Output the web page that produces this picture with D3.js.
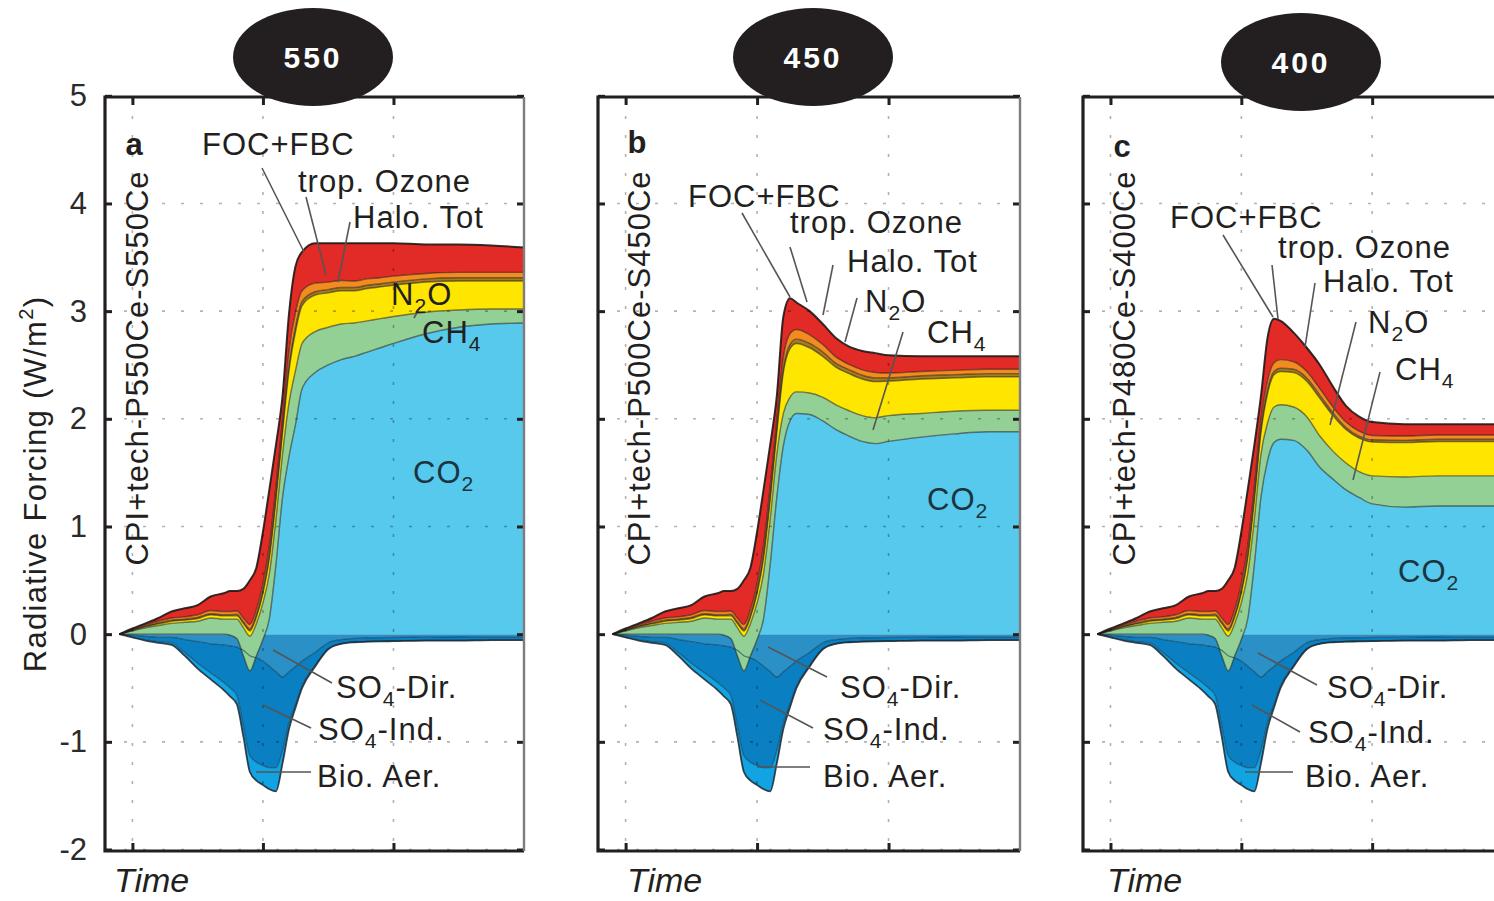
<!DOCTYPE html>
<html>
<head>
<meta charset="utf-8">
<title>Radiative forcing by agent – CPI+tech stabilisation scenarios</title>
<script src="https://cdn.jsdelivr.net/npm/d3@7/dist/d3.min.js"></script>
<style>
  html, body { margin: 0; padding: 0; background: #ffffff; }
  svg { display: block; }
  text { font-family: "Liberation Sans", Arial, Helvetica, sans-serif; }
</style>
</head>
<body>
<svg id="chart" width="1494" height="901"></svg>
<script>
// ---------------- time axis shared by all scenarios ----------------
const years = [1990, 2000, 2010, 2020, 2030, 2040, 2050, 2060, 2070, 2075, 2080, 2085,
  2090, 2095, 2100, 2105, 2110, 2115, 2120, 2125, 2130, 2140, 2150, 2160,
  2170, 2180, 2190, 2200, 2225, 2250, 2275, 2300];

// ---------------- scenario identifiers ----------------
const targets = ["550", "450", "400"];
const scenarioNames = ["CPI+tech-P550Ce-S550Ce", "CPI+tech-P500Ce-S450Ce", "CPI+tech-P480Ce-S400Ce"];
const panelLetters = ["a", "b", "c"];

// ---------------- forcing agents ----------------
const positiveAgents = ["CO2", "CH4", "N2O", "Halo. Tot", "trop. Ozone", "FOC+FBC"];
const negativeAgents = ["SO4-Dir.", "SO4-Ind.", "Bio. Aer."];

// ---------------- tick values ----------------
const forcingTicks = [-2, -1, 0, 1, 2, 3, 4, 5];
const timeTicks = [2000, 2100, 2200];

// ---------------- radiative forcing, W/m2 : 550 target ----------------
const co2_550   = [0,0,0,0,0,0,0,0,0,-0.01,-0.04,-0.2,-0.34,-0.2,-0.05,0.15,0.65,1.27,1.65,1.95,2.28,2.43,2.5,2.55,2.58,2.62,2.66,2.7,2.79,2.85,2.88,2.89];
const ch4_550   = [0,0.03,0.06,0.08,0.1,0.11,0.12,0.15,0.14,0.15,0.18,0.26,0.32,0.3,0.34,0.42,0.42,0.4,0.5,0.5,0.42,0.38,0.35,0.33,0.31,0.29,0.27,0.25,0.2,0.16,0.14,0.13];
const n2o_550   = [0,0.005,0.01,0.015,0.02,0.02,0.025,0.03,0.03,0.03,0.03,0.04,0.05,0.06,0.09,0.14,0.18,0.2,0.3,0.36,0.35,0.34,0.32,0.31,0.3,0.3,0.295,0.29,0.28,0.27,0.26,0.26];
const halo_550  = [0,0.003,0.005,0.01,0.01,0.01,0.01,0.01,0.01,0.01,0.015,0.015,0.02,0.02,0.03,0.04,0.04,0.04,0.05,0.05,0.04,0.03,0.03,0.03,0.03,0.03,0.03,0.03,0.03,0.03,0.03,0.03];
const ozone_550 = [0,0.005,0.01,0.015,0.02,0.02,0.025,0.03,0.03,0.03,0.03,0.035,0.04,0.05,0.06,0.08,0.09,0.08,0.13,0.13,0.1,0.08,0.07,0.065,0.06,0.06,0.055,0.055,0.05,0.05,0.05,0.05];
const foc_550   = [0,0.01,0.015,0.03,0.06,0.08,0.09,0.13,0.17,0.19,0.185,0.27,0.41,0.39,0.48,0.52,0.38,0.22,0.35,0.43,0.36,0.37,0.36,0.345,0.35,0.33,0.32,0.305,0.27,0.26,0.25,0.23];

// ---------------- radiative forcing, W/m2 : 450 target ----------------
const co2_450   = [0,0,0,0,0,0,0,0,0,-0.01,-0.04,-0.2,-0.34,-0.2,-0.05,0.15,0.65,1.27,1.75,1.98,2.05,2.04,1.98,1.9,1.84,1.79,1.77,1.79,1.83,1.86,1.88,1.88];
const ch4_450   = [0,0.03,0.06,0.08,0.1,0.11,0.12,0.15,0.14,0.15,0.18,0.26,0.32,0.3,0.34,0.42,0.42,0.4,0.3,0.22,0.2,0.2,0.22,0.23,0.235,0.24,0.24,0.24,0.22,0.21,0.2,0.2];
const n2o_450   = [0,0.005,0.01,0.015,0.02,0.02,0.025,0.03,0.03,0.03,0.03,0.04,0.05,0.06,0.09,0.14,0.18,0.2,0.38,0.45,0.45,0.42,0.38,0.35,0.345,0.34,0.335,0.32,0.32,0.31,0.31,0.31];
const halo_450  = [0,0.003,0.005,0.01,0.01,0.01,0.01,0.01,0.01,0.01,0.015,0.015,0.02,0.02,0.03,0.04,0.04,0.04,0.04,0.04,0.04,0.04,0.04,0.035,0.035,0.035,0.035,0.03,0.03,0.03,0.03,0.03];
const ozone_450 = [0,0.005,0.01,0.015,0.02,0.02,0.025,0.03,0.03,0.03,0.03,0.035,0.04,0.05,0.06,0.08,0.09,0.08,0.1,0.1,0.09,0.08,0.07,0.06,0.05,0.05,0.05,0.045,0.04,0.04,0.04,0.04];
const foc_450   = [0,0.01,0.015,0.03,0.06,0.08,0.09,0.13,0.17,0.19,0.185,0.27,0.41,0.39,0.48,0.52,0.38,0.22,0.38,0.33,0.25,0.22,0.19,0.175,0.165,0.175,0.18,0.165,0.14,0.13,0.12,0.12];

// ---------------- radiative forcing, W/m2 : 400 target ----------------
const co2_400   = [0,0,0,0,0,0,0,0,0,-0.01,-0.04,-0.2,-0.34,-0.2,-0.05,0.15,0.65,1.27,1.61,1.78,1.81,1.8,1.71,1.55,1.44,1.34,1.27,1.21,1.18,1.19,1.19,1.19];
const ch4_400   = [0,0.03,0.06,0.08,0.1,0.11,0.12,0.15,0.14,0.15,0.18,0.26,0.32,0.3,0.34,0.42,0.42,0.4,0.35,0.33,0.32,0.31,0.31,0.29,0.26,0.25,0.24,0.26,0.28,0.28,0.28,0.28];
const n2o_400   = [0,0.005,0.01,0.015,0.02,0.02,0.025,0.03,0.03,0.03,0.03,0.04,0.05,0.06,0.09,0.14,0.18,0.2,0.27,0.3,0.31,0.32,0.33,0.35,0.33,0.31,0.31,0.315,0.32,0.32,0.32,0.32];
const halo_400  = [0,0.003,0.005,0.01,0.01,0.01,0.01,0.01,0.01,0.01,0.015,0.015,0.02,0.02,0.03,0.04,0.04,0.04,0.04,0.03,0.03,0.03,0.03,0.03,0.025,0.02,0.02,0.02,0.02,0.02,0.02,0.02];
const ozone_400 = [0,0.005,0.01,0.015,0.02,0.02,0.025,0.03,0.03,0.03,0.03,0.035,0.04,0.05,0.06,0.08,0.09,0.08,0.08,0.08,0.08,0.07,0.06,0.06,0.055,0.05,0.045,0.04,0.04,0.04,0.04,0.04];
const foc_400   = [0,0.01,0.015,0.03,0.06,0.08,0.09,0.13,0.17,0.19,0.185,0.27,0.41,0.39,0.48,0.52,0.38,0.22,0.4,0.41,0.36,0.27,0.22,0.22,0.19,0.15,0.135,0.125,0.11,0.1,0.1,0.1];

// ---------------- aerosol forcing (common to the three targets) ----------------
const so4Dir = [0,-0.01,-0.02,-0.03,-0.03,-0.05,-0.07,-0.09,-0.1,-0.11,-0.12,-0.15,-0.2,-0.22,-0.25,-0.3,-0.35,-0.4,-0.35,-0.3,-0.25,-0.17,-0.08,-0.05,-0.04,-0.035,-0.032,-0.03,-0.028,-0.026,-0.025,-0.025];
const so4Ind = [0,-0.015,-0.03,-0.04,-0.05,-0.12,-0.2,-0.27,-0.35,-0.39,-0.45,-0.7,-0.93,-0.97,-0.97,-0.94,-0.89,-0.68,-0.47,-0.35,-0.23,-0.12,-0.055,-0.037,-0.033,-0.033,-0.033,-0.033,-0.03,-0.032,-0.028,-0.028];
const bioAer = [0,-0.005,-0.01,-0.01,-0.02,-0.03,-0.05,-0.06,-0.07,-0.08,-0.08,-0.1,-0.15,-0.17,-0.18,-0.2,-0.22,-0.12,-0.06,-0.03,-0.02,-0.01,-0.005,-0.003,-0.002,-0.002,-0.002,-0.002,-0.002,-0.002,-0.002,-0.002];

// ---------------- drawing ----------------
const FONT = '"Liberation Sans", Arial, Helvetica, sans-serif';
const INK = "#231f20";
const posColors = ["#56c9ed", "#93d095", "#ffe600", "#a57c1e", "#f48b1e", "#e22a26"];
const negColors = ["#2b90c6", "#0a7fc1", "#12a3e3"];

const svg = d3.select("#chart");
const defs = svg.append("defs");

const seriesByTarget = {
  "550": [co2_550, ch4_550, n2o_550, halo_550, ozone_550, foc_550],
  "450": [co2_450, ch4_450, n2o_450, halo_450, ozone_450, foc_450],
  "400": [co2_400, ch4_400, n2o_400, halo_400, ozone_400, foc_400]
};
const aerosols = [so4Dir, so4Ind, bioAer];

// label contents (sub-/superscripts as separate parts)
const lbl = {
  foc:   [["FOC+FBC"]],
  ozone: [["trop. Ozone"]],
  halo:  [["Halo. Tot"]],
  n2o:   [["N"], ["2", "sub"], ["O"]],
  ch4:   [["CH"], ["4", "sub"]],
  co2:   [["CO"], ["2", "sub"]],
  dir:   [["SO"], ["4", "sub"], ["-Dir."]],
  ind:   [["SO"], ["4", "sub"], ["-Ind."]],
  bio:   [["Bio. Aer."]]
};

// per-panel layout
const layout = [
  { left: 105, width: 419, rightBorder: true, tickLabels: true,
    ellipse: [313, 57], letterX: 134, letterY: 155, scenX: 148, timeX: 114,
    labels: [["foc", 202, 155], ["ozone", 298, 192], ["halo", 353, 228], ["n2o", 391, 305],
             ["ch4", 422, 343], ["co2", 413, 483], ["dir", 336, 698], ["ind", 318, 740], ["bio", 317, 787]],
    leaders: [[262,168,304,252], [306,197,326,275], [350,222,338,282], [420,307,414,318],
              [332,683,273,650], [311,728,263,705], [311,772,256,772]] },
  { left: 598, width: 422, rightBorder: true, tickLabels: false,
    ellipse: [813, 57], letterX: 637, letterY: 153, scenX: 650, timeX: 627,
    labels: [["foc", 688, 207], ["ozone", 790, 233], ["halo", 847, 272], ["n2o", 865, 312],
             ["ch4", 927, 343], ["co2", 927, 510], ["dir", 840, 698], ["ind", 823, 740], ["bio", 823, 787]],
    leaders: [[742,213,790,297], [790,247,807,302], [833,265,823,315], [857,298,845,342],
              [903,332,873,430], [827,677,768,647], [813,728,760,700], [810,767,757,767]] },
  { left: 1083, width: 420, rightBorder: true, tickLabels: false,
    ellipse: [1301, 62], letterX: 1122, letterY: 157, scenX: 1135, timeX: 1107,
    labels: [["foc", 1170, 228], ["ozone", 1278, 258], ["halo", 1323, 292], ["n2o", 1368, 333],
             ["ch4", 1395, 380], ["co2", 1398, 582], ["dir", 1327, 698], ["ind", 1308, 743], ["bio", 1305, 787]],
    leaders: [[1223,235,1273,317], [1272,265,1278,319], [1315,283,1305,347], [1356,322,1330,425],
              [1380,372,1353,480], [1317,685,1258,653], [1300,732,1252,705], [1293,772,1245,772]] }
];

function addRichText(parent, parts, x, y, size, fill) {
  const t = parent.append("text").attr("x", x).attr("y", y)
    .attr("font-size", size).attr("fill", fill || INK).attr("letter-spacing", 1);
  let shift = 0;
  parts.forEach(([str, kind]) => {
    const ts = t.append("tspan").text(str);
    let target = 0, fs = size;
    if (kind === "sub") { target = size * 0.27; fs = size * 0.68; }
    if (kind === "sup") { target = -size * 0.42; fs = size * 0.65; }
    ts.attr("font-size", fs);
    if (target !== shift) { ts.attr("dy", target - shift); shift = target; }
  });
  return t;
}

function stack(list) {
  let base = years.map(() => 0);
  return list.map(vals => {
    const rows = years.map((yr, i) => ({ yr, y0: base[i], y1: base[i] + vals[i] }));
    base = rows.map(r => r.y1);
    return rows;
  });
}

targets.forEach((target, pi) => {
  const L = layout[pi];
  const x = d3.scaleLinear().domain([1979, 2300]).range([L.left, L.left + L.width]);
  const y = d3.scaleLinear().domain([-2, 5]).range([849.5, 95.8]);
  const top = 97, bottom = 851;

  const clipId = "clip" + target;
  defs.append("clipPath").attr("id", clipId).append("rect")
    .attr("x", L.left).attr("y", top).attr("width", L.width).attr("height", bottom - top);

  const g = svg.append("g");
  const plot = g.append("g").attr("clip-path", `url(#${clipId})`);

  const area = d3.area().curve(d3.curveMonotoneX)
    .x(d => x(d.yr)).y0(d => y(d.y0)).y1(d => y(d.y1));
  const edge = d3.line().curve(d3.curveMonotoneX)
    .x(d => x(d.yr)).y(d => y(d.y1));

  const negLayers = stack(aerosols);
  const posLayers = stack(seriesByTarget[target]);

  // aerosol (negative) layers
  plot.selectAll("path.neg").data(negLayers).join("path")
    .attr("class", "neg").attr("d", area)
    .attr("fill", (d, i) => negColors[i]);

  // greenhouse gas / ozone / carbon (positive) layers
  plot.selectAll("path.pos").data(posLayers).join("path")
    .attr("class", "pos").attr("d", area)
    .attr("fill", (d, i) => posColors[i]);

  // layer boundaries
  plot.selectAll("path.negEdge").data(negLayers).join("path")
    .attr("class", "negEdge").attr("d", edge).attr("fill", "none")
    .attr("stroke", (d, i) => i === 2 ? "#1d2730" : "#0d3a55")
    .attr("stroke-opacity", (d, i) => i === 2 ? 0.85 : 0.6)
    .attr("stroke-width", (d, i) => i === 2 ? 1.8 : 1.3);
  plot.selectAll("path.posEdge").data(posLayers).join("path")
    .attr("class", "posEdge").attr("d", edge).attr("fill", "none")
    .attr("stroke", "#1f1a17")
    .attr("stroke-opacity", (d, i) => i === 5 ? 0.9 : 0.55)
    .attr("stroke-width", (d, i) => i === 5 ? 2 : 1.4);

  // dotted grid on top of the areas
  plot.selectAll("line.hgrid").data(forcingTicks.filter(v => v !== 0 && v !== 5)).join("line")
    .attr("x1", L.left).attr("x2", L.left + L.width)
    .attr("y1", d => y(d)).attr("y2", d => y(d))
    .attr("stroke", "#000").attr("stroke-opacity", 0.3)
    .attr("stroke-width", 1.6).attr("stroke-dasharray", "3 16");
  plot.selectAll("line.vgrid").data(timeTicks).join("line")
    .attr("x1", d => x(d)).attr("x2", d => x(d))
    .attr("y1", top).attr("y2", bottom)
    .attr("stroke", "#000").attr("stroke-opacity", 0.3)
    .attr("stroke-width", 1.6).attr("stroke-dasharray", "3 16");

  // axes with inward ticks
  const styleAxis = sel => {
    sel.select(".domain").remove();
    sel.selectAll(".tick line").attr("stroke", INK).attr("stroke-width", 3);
  };
  const leftAxis = d3.axisLeft(y).tickValues(forcingTicks).tickSize(-7).tickPadding(18)
    .tickFormat(L.tickLabels ? d => String(d) : () => "");
  const gl = g.append("g").attr("transform", `translate(${L.left},0)`)
    .call(leftAxis).call(styleAxis);
  gl.attr("font-family", FONT).attr("font-size", 31);
  gl.selectAll(".tick text").attr("fill", "#2b2b2b").attr("font-size", 31);
  g.append("g").attr("transform", `translate(${L.left + L.width},0)`)
    .call(d3.axisRight(y).tickValues(forcingTicks).tickSize(-7).tickFormat(() => ""))
    .call(styleAxis);
  g.append("g").attr("transform", `translate(0,${top})`)
    .call(d3.axisTop(x).tickValues(timeTicks).tickSize(-8).tickFormat(() => ""))
    .call(styleAxis);
  g.append("g").attr("transform", `translate(0,${bottom})`)
    .call(d3.axisBottom(x).tickValues(timeTicks).tickSize(-8).tickFormat(() => ""))
    .call(styleAxis);

  // frame
  g.append("path")
    .attr("d", `M${L.left + L.width},${top} H${L.left} V${bottom} H${L.left + L.width}`)
    .attr("fill", "none").attr("stroke", INK).attr("stroke-width", 3.2);
  if (L.rightBorder) {
    g.append("line").attr("x1", L.left + L.width).attr("x2", L.left + L.width)
      .attr("y1", top).attr("y2", bottom)
      .attr("stroke", "#7d7d7d").attr("stroke-width", 2.4);
  }

  // panel letter and scenario name
  g.append("text").attr("x", L.letterX).attr("y", L.letterY)
    .attr("text-anchor", "middle").attr("font-size", 31).attr("font-weight", "bold")
    .attr("fill", INK).text(panelLetters[pi]);
  g.append("text")
    .attr("transform", `translate(${L.scenX},368) rotate(-90)`)
    .attr("text-anchor", "middle").attr("font-size", 31).attr("letter-spacing", 1)
    .attr("fill", INK).text(scenarioNames[pi]);

  // leader lines and agent labels
  g.selectAll("line.leader").data(L.leaders).join("line")
    .attr("x1", d => d[0]).attr("y1", d => d[1]).attr("x2", d => d[2]).attr("y2", d => d[3])
    .attr("stroke", "#555").attr("stroke-width", 1.6);
  L.labels.forEach(([key, lx, ly]) => {
    addRichText(g, lbl[key], lx, ly, 31, key === "co2" ? "#1c3440" : INK);
  });

  // time axis caption
  g.append("text").attr("x", L.timeX).attr("y", 892)
    .attr("font-size", 34).attr("font-style", "italic").attr("fill", INK).text("Time");

  // target badge
  g.append("ellipse").attr("cx", L.ellipse[0]).attr("cy", L.ellipse[1])
    .attr("rx", 80).attr("ry", 49).attr("fill", INK);
  g.append("text").attr("x", L.ellipse[0]).attr("y", L.ellipse[1] + 11)
    .attr("text-anchor", "middle").attr("font-size", 30).attr("font-weight", "bold")
    .attr("letter-spacing", 3).attr("fill", "#ffffff").text(target);
});

// shared y-axis title
const yTitle = svg.append("g").attr("transform", "translate(46,484) rotate(-90)");
addRichText(yTitle, [["Radiative Forcing (W/m"], ["2", "sup"], [")"]], 0, 0, 31)
  .attr("text-anchor", "middle").attr("letter-spacing", 1.3);
</script>
</body>
</html>
